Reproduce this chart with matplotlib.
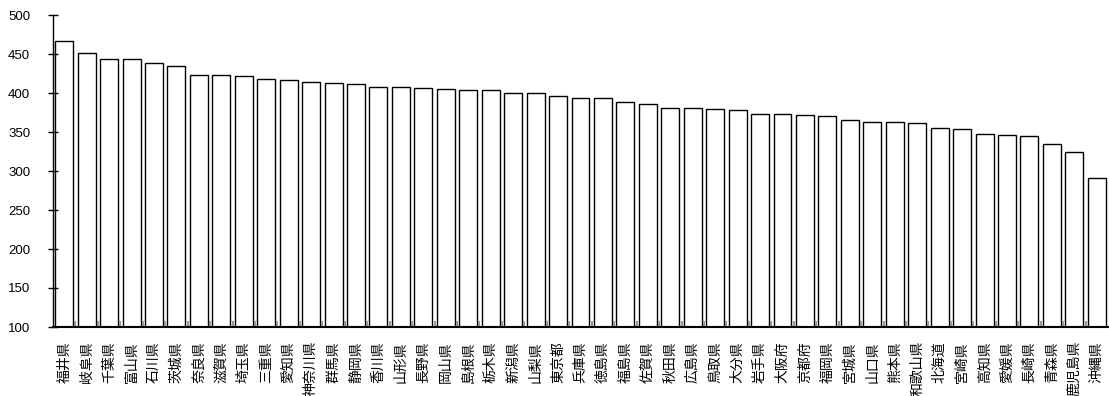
import numpy as np
import matplotlib.pyplot as plt

plt.rcParams['font.family'] = ['Noto Sans CJK JP', 'DejaVu Sans']

prefectures = ['福井県', '岐阜県', '千葉県', '富山県', '石川県', '茨城県', '奈良県', '滋賀県',
               '埼玉県', '三重県', '愛知県', '神奈川県', '群馬県', '静岡県', '香川県', '山形県',
               '長野県', '岡山県', '島根県', '栃木県', '新潟県', '山梨県', '東京都', '兵庫県',
               '徳島県', '福島県', '佐賀県', '秋田県', '広島県', '鳥取県', '大分県', '岩手県',
               '大阪府', '京都府', '福岡県', '宮城県', '山口県', '熊本県', '和歌山県', '北海道',
               '宮崎県', '高知県', '愛媛県', '長崎県', '青森県', '鹿児島県', '沖縄県']
values = [467, 451, 443, 443, 438.5, 434, 423, 423, 422, 418.5, 417, 414, 413, 411, 408, 408,
          407, 405, 403.5, 403.5, 400.5, 400.5, 396, 393, 393, 388.5, 386.5, 381, 381, 379.5,
          378, 373.5, 373.5, 372, 370.5, 366, 363, 363, 361, 355.5, 354, 348, 346, 345,
          334, 325, 290.5]

fig = plt.figure(figsize=(11.09, 3.96), dpi=100)
ax = fig.add_axes([53 / 1109, 1 - 327 / 396, 1055 / 1109, 312 / 396])

x = np.arange(len(prefectures))
ax.bar(x, values, width=0.8, color='white', edgecolor='black', linewidth=1.0)

ax.set_xlim(-0.5, len(prefectures) - 0.5)
ax.set_ylim(100, 500)
ax.set_yticks(np.arange(100, 501, 50))
ax.tick_params(axis='y', direction='inout', length=7, width=1, labelsize=9.5, pad=13)
for t in ax.get_yticklabels():
    t.set_family(['Liberation Sans', 'DejaVu Sans'])

ax.set_xticks(x)
ax.set_xticklabels(prefectures, rotation=90, fontsize=10)
ax.tick_params(axis='x', which='major', length=0, pad=10)
ax.set_xticks(np.arange(0.5, len(prefectures) - 1, 1), minor=True)
ax.tick_params(axis='x', which='minor', direction='in', length=4, width=1.5, color='#999999')

for s in ['top', 'right']:
    ax.spines[s].set_visible(False)
ax.spines['left'].set_linewidth(1)
ax.spines['bottom'].set_linewidth(1.5)

fig.savefig('out.png', dpi=100)
